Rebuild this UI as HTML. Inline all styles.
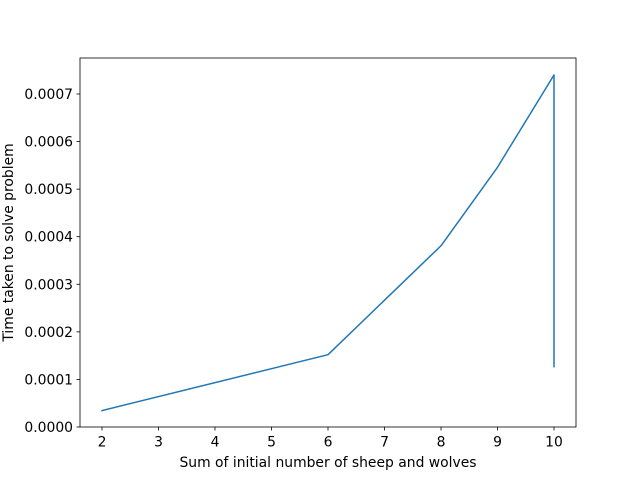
<!DOCTYPE html>
<html><head><meta charset="utf-8"><style>
body{margin:0;background:#fff;}
svg text{font-family:"DejaVu Sans","Liberation Sans",sans-serif;font-size:13.9px;fill:#000;}
</style></head><body>
<svg id="chart" width="640" height="480" xmlns="http://www.w3.org/2000/svg">
<rect width="640" height="480" fill="#fff"/>
<g id="plot"></g>
</svg>
<script>
const xValues = [2, 6, 8, 9, 10, 10];
const yValues = [0.0000345, 0.000152, 0.000381, 0.000546, 0.00074, 0.000127];
const xTicks = [2,3,4,5,6,7,8,9,10];
const yTicks = [0,0.0001,0.0002,0.0003,0.0004,0.0005,0.0006,0.0007];
const yTickLabels = ["0.0000","0.0001","0.0002","0.0003","0.0004","0.0005","0.0006","0.0007"];

const L=80,R=576,T=58,B=427;
const xs=v=>102+(v-2)*(554-102)/8;
const ys=v=>427-v*(427-94)/0.0007;
const NS="http://www.w3.org/2000/svg";
const g=document.getElementById('plot');
function mk(t,a){const e=document.createElementNS(NS,t);for(const k in a)e.setAttribute(k,a[k]);g.appendChild(e);return e;}

const pts=xValues.map((x,i)=>xs(x)+','+ys(yValues[i])).join(' ');
const line=mk('polyline',{points:pts,fill:'none',stroke:'#1f77b4','stroke-width':1.5,'stroke-linejoin':'round','stroke-linecap':'square'});



const frame=mk('rect',{x:L,y:T,width:R-L,height:B-T,fill:'none',stroke:'#000','stroke-width':0.8});



xTicks.forEach(t=>{
  const x=xs(t);
  const tk=mk('line',{x1:x,x2:x,y1:B,y2:B+3.5,stroke:'#000','stroke-width':0.8});
  
  
  const tx=mk('text',{x:x,y:B+19.5,'text-anchor':'middle'});tx.textContent=t;
  
  
});
yTicks.forEach((t,i)=>{
  const y=ys(t);
  const tk=mk('line',{x1:L-3.5,x2:L,y1:y,y2:y,stroke:'#000','stroke-width':0.8});
  
  
  const tx=mk('text',{x:L-7,y:y+5,'text-anchor':'end'});tx.textContent=yTickLabels[i];
  
  
});
const xt=mk('text',{x:(L+R)/2,y:467,'text-anchor':'middle'});xt.textContent='Sum of initial number of sheep and wolves';


const yt=mk('text',{x:0,y:0,'text-anchor':'middle',transform:'translate(13,'+((T+B)/2)+') rotate(-90)'});yt.textContent='Time taken to solve problem';


</script>
</body></html>
